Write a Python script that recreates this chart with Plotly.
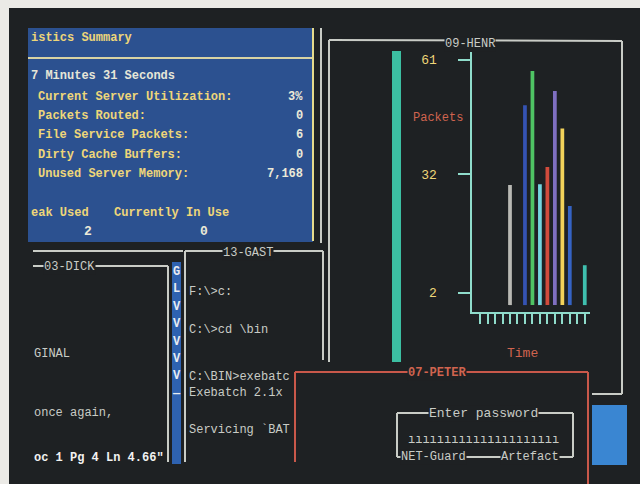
import plotly.graph_objects as go

# ---------------- data ----------------
TIME_SLOTS = [4, 6, 7, 8, 9, 10, 11, 12, 14]
PACKETS = [29.3, 49.5, 58.2, 29.5, 33.9, 53.1, 43.6, 24.0, 9.0]
BAR_COLORS = ["#b9b9b4", "#3553b3", "#4fc464", "#74d6e0", "#d14b3c",
              "#7f6fc0", "#f2d25a", "#3563c4", "#3fbfae"]
BAR_BASE = -1.1
TIME_TICKS = [0, 1, 2, 3, 4, 5, 6, 7, 8, 9, 10, 11, 12, 13, 14]
Y_TICKS = [2, 32, 61]
Y_TICK_TEXT = ["2", "32", "61"]

STAT_LABELS = ["Current Server Utilization:", "Packets Routed:",
               "File Service Packets:", "Dirty Cache Buffers:",
               "Unused Server Memory:"]
STAT_VALUES = ["3%", "0", "6", "0", "7,168"]

GAST_LINES = ["F:\\>c:", "C:\\>cd \\bin", "C:\\BIN>exebatc",
              "Exebatch 2.1x", "Servicing `BAT"]
STRIP_LETTERS = ["G", "L", "V", "V", "V", "V", "V", "—"]

W, H = 640, 484
FONT = "Liberation Mono"
BG = "#1e2123"
GRAY = "#c9ccc6"
YEL = "#eed679"
RED = "#c9584a"
TEAL = "#8fdccb"


def px(x):
    return x / W


def py(y):
    return 1 - y / H


shapes = []


def rect(x0, y0, x1, y1, color, line=None):
    shapes.append(dict(type="rect", xref="paper", yref="paper",
                       x0=px(x0), x1=px(x1), y0=py(y1), y1=py(y0),
                       fillcolor=color, line=dict(width=0) if line is None else line,
                       layer="below"))


def seg(x0, y0, x1, y1, color, width=2):
    shapes.append(dict(type="line", xref="paper", yref="paper",
                       x0=px(x0), x1=px(x1), y0=py(y0), y1=py(y1),
                       line=dict(color=color, width=width), layer="below"))


annotations = []


def text(x, y, s, color=GRAY, size=12, anchor="left", bg=None, bold=False):
    a = dict(xref="paper", yref="paper", x=px(x), y=py(y), text=("<b>%s</b>" % s) if bold else s,
             showarrow=False, xanchor=anchor, yanchor="middle",
             font=dict(family=FONT, size=size, color=color), borderpad=0)
    if bg:
        a["bgcolor"] = bg
    annotations.append(a)


# screen
rect(9, 8, 640, 484, BG)
# blue stats panel
rect(28, 28, 313, 242, "#2c5190")
seg(28, 58, 313, 58, "#d9d3a4", 2)
seg(313, 28, 313, 241, "#e6dc8e", 2)
seg(321, 28, 321, 243, GRAY, 2)
text(30, 38, "istics Summary", YEL, 12, bold=True)
text(30, 76, "7 Minutes 31 Seconds", "#e6e6d8", 12, bold=True)
stat_y = [97, 116, 135, 155, 174]
for lab, val, yy in zip(STAT_LABELS, STAT_VALUES, stat_y):
    text(37, yy, lab, YEL, 12, bold=True)
    text(304, yy, val, "#ecead8", 12, anchor="right", bold=True)
text(30, 213, "eak Used", YEL, 12, bold=True)
text(113, 213, "Currently In Use", YEL, 12, bold=True)
text(88, 231, "2", "#ecead8", 13, anchor="center", bold=True)
text(204, 231, "0", "#ecead8", 13, anchor="center", bold=True)

# left-bottom panels
seg(33, 251, 183, 251, GRAY)
seg(33, 266, 168, 266, GRAY)
seg(168, 266, 168, 462, GRAY)
text(69, 267, "03-DICK", GRAY, 12, anchor="center", bg=BG)
rect(172, 262, 181, 464, "#2e62b0")
for i, ch in enumerate(STRIP_LETTERS):
    text(176.5, 272 + i * 17.4, ch, "#e8ecf0", 12, anchor="center", bold=True)
text(33, 354, "GINAL", GRAY, 12)
text(33, 413, "once again,", GRAY, 12)
text(33, 458, "oc 1 Pg 4 Ln 4.66\"", "#f2f2f0", 12, bold=True)

# 13-GAST
seg(185, 251, 323, 251, GRAY)
seg(185, 251, 185, 462, GRAY)
seg(323, 251, 323, 360, GRAY)
text(248, 253, "13-GAST", GRAY, 12, anchor="center", bg=BG)
for s, yy in zip(GAST_LINES, [292, 330, 377, 393, 430]):
    text(188, yy, s, GRAY, 12)

# 09-HENR panel
seg(329, 40, 622, 41, GRAY)
seg(329, 40, 329, 362, GRAY)
seg(622, 41, 622, 394, GRAY)
seg(592, 394, 622, 394, GRAY)
text(470, 44, "09-HENR", GRAY, 12, anchor="center", bg=BG)
rect(392, 51, 401, 362, "#3cbfa2")
text(438, 118, "Packets", "#d0644f", 12, anchor="center")
text(522, 353, "Time", "#d0644f", 13, anchor="center")

# 07-PETER
seg(295, 372, 588, 372, RED)
seg(295, 372, 295, 462, RED)
seg(588, 372, 588, 484, RED)
text(437, 373, "07-PETER", "#d0644f", 12, anchor="center", bg=BG, bold=True)
seg(397, 413, 573, 413, GRAY)
seg(397, 457, 573, 457, GRAY)
seg(397, 413, 397, 457, GRAY)
seg(573, 413, 573, 457, GRAY)
text(483, 413, "Enter password", GRAY, 13, anchor="center", bg=BG)
text(483, 440, "ı" * 21, GRAY, 12, anchor="center")
text(433, 457, "NET-Guard", GRAY, 12, anchor="center", bg=BG)
text(530, 457, "Artefact", GRAY, 12, anchor="center", bg=BG)
rect(592, 405, 627, 465, "#3a86d2")

fig = go.Figure()
fig.add_trace(go.Bar(
    x=TIME_SLOTS, y=[v - BAR_BASE for v in PACKETS], base=BAR_BASE,
    marker=dict(color=BAR_COLORS, line=dict(width=0)), width=0.5,
    hoverinfo="skip", showlegend=False))

fig.update_layout(
    width=W, height=H, margin=dict(l=0, r=0, t=0, b=0),
    paper_bgcolor="#ebeae6", plot_bgcolor="rgba(0,0,0,0)",
    shapes=shapes, annotations=annotations, showlegend=False,
    xaxis=dict(domain=[px(471.5), px(590)], range=[-1.15, 14.7],
               showgrid=False, zeroline=False, showline=True,
               linecolor=TEAL, linewidth=2, ticks="outside", ticklen=10,
               tickwidth=2, tickcolor=TEAL, tickvals=TIME_TICKS,
               showticklabels=False),
    yaxis=dict(domain=[py(312), py(52)], range=[-2.85, 63.0],
               showgrid=False, zeroline=False, showline=True,
               linecolor=TEAL, linewidth=2, ticks="outside", ticklen=12,
               tickwidth=2, tickcolor=TEAL, tickvals=Y_TICKS,
               ticktext=Y_TICK_TEXT, ticklabelstandoff=18,
               tickfont=dict(family=FONT, size=13, color=YEL)),
)

fig.write_html("out.html", config={"displayModeBar": False},
               post_script="document.body.style.margin='0';"
                           "document.body.style.overflow='hidden';")
